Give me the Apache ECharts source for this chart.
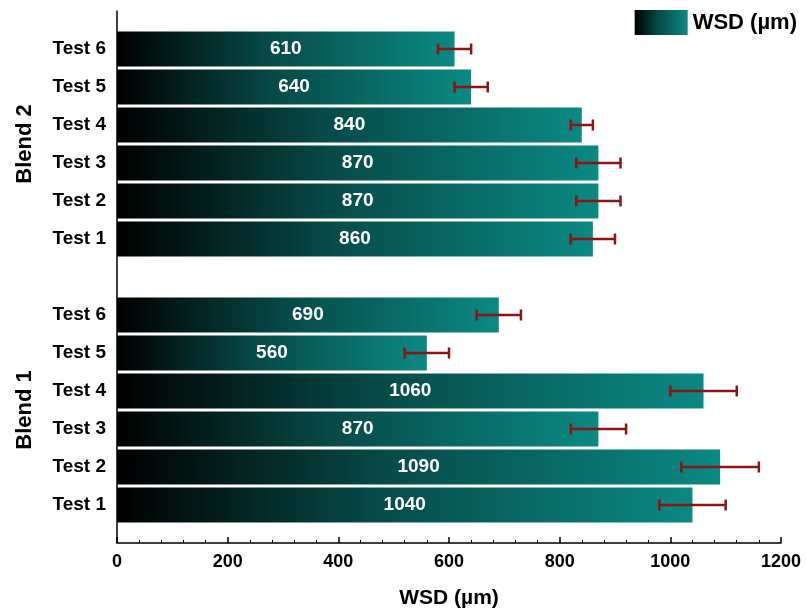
<!DOCTYPE html>
<html>
<head>
<meta charset="utf-8">
<style>
  html, body { margin: 0; padding: 0; background: #fff; }
  #chart { width: 806px; height: 614px; }
</style>
<script src="https://cdn.jsdelivr.net/npm/echarts@6/dist/echarts.min.js"></script>
</head>
<body>
<div id="chart"></div>
<script>
var tests = ['Test 1', 'Test 2', 'Test 3', 'Test 4', 'Test 5', 'Test 6'];
var blendNames = ['Blend 1', 'Blend 2'];
var blend1Values = [1040, 1090, 870, 1060, 560, 690];
var blend1Errors = [60, 70, 50, 60, 40, 40];
var blend2Values = [860, 870, 870, 840, 640, 610];
var blend2Errors = [40, 40, 40, 20, 30, 30];
var seriesName = 'WSD (µm)';

var FONT = '"Liberation Sans", Arial, sans-serif';

// category layout: pad, blend 1 tests, gap, blend 2 tests, pad
var categories = ['pad-bottom'];
var values = [null];
var errors = [null];
tests.forEach(function (t, i) {
  categories.push(blendNames[0] + '|' + t);
  values.push(blend1Values[i]);
  errors.push(blend1Errors[i]);
});
categories.push('gap');
values.push(null);
errors.push(null);
tests.forEach(function (t, i) {
  categories.push(blendNames[1] + '|' + t);
  values.push(blend2Values[i]);
  errors.push(blend2Errors[i]);
});
categories.push('pad-top');
values.push(null);
errors.push(null);

var errData = [];
values.forEach(function (v, i) {
  if (v != null) errData.push([v - errors[i], v + errors[i], i]);
});

var chart = echarts.init(document.getElementById('chart'));

var option = {
  backgroundColor: '#fff',
  animation: false,
  textStyle: { fontFamily: FONT },
  legend: {
    data: [seriesName],
    right: 4,
    top: 5,
    itemWidth: 53,
    itemHeight: 25,
    icon: 'rect',
    textStyle: { fontSize: 22, fontWeight: 'bold', color: '#000', fontFamily: FONT }
  },
  grid: {
    left: 117,
    right: 25,
    top: 11,
    bottom: 71,
    containLabel: false
  },
  xAxis: {
    type: 'value',
    min: 0,
    max: 1200,
    interval: 200,
    name: seriesName,
    nameLocation: 'middle',
    nameGap: 45,
    nameTextStyle: { fontSize: 21, fontWeight: 'bold', color: '#000', fontFamily: FONT },
    axisLine: { show: true, lineStyle: { color: '#000', width: 1.5 } },
    axisTick: { show: true, inside: true, length: 6, lineStyle: { color: '#000', width: 1.5 } },
    minorTick: { show: true, splitNumber: 5, length: 3, lineStyle: { color: '#000', width: 1 } },
    axisLabel: {
      fontSize: 18,
      fontWeight: 'bold',
      color: '#000',
      margin: 10,
      fontFamily: FONT,
      formatter: function (v) { return String(v); }
    },
    splitLine: { show: false }
  },
  yAxis: {
    type: 'category',
    data: categories,
    boundaryGap: false,
    axisLine: { show: true, lineStyle: { color: '#000', width: 1.5 } },
    axisTick: { show: false },
    axisLabel: {
      interval: 0,
      fontSize: 19,
      fontWeight: 'bold',
      color: '#000',
      margin: 11,
      fontFamily: FONT,
      formatter: function (v) {
        return v.indexOf('|') >= 0 ? v.split('|')[1] : '';
      }
    },
    splitLine: { show: false }
  },
  series: [
    {
      name: seriesName,
      type: 'bar',
      data: values,
      barWidth: 35,
      itemStyle: {
        color: new echarts.graphic.LinearGradient(0, 0, 1, 0, [
          { offset: 0, color: '#000000' },
          { offset: 0.45, color: '#064b48' },
          { offset: 1, color: '#0b8983' }
        ])
      },
      label: {
        show: true,
        position: 'inside',
        color: '#fff',
        fontSize: 19,
        fontWeight: 'bold',
        fontFamily: FONT
      }
    },
    {
      name: 'error',
      type: 'custom',
      data: errData,
      encode: { x: [0, 1], y: 2 },
      z: 5,
      renderItem: function (params, api) {
        var lo = api.coord([api.value(0), api.value(2)]);
        var hi = api.coord([api.value(1), api.value(2)]);
        var cap = 5.5;
        var style = { stroke: '#8b1414', lineWidth: 2.5 };
        return {
          type: 'group',
          children: [
            { type: 'line', shape: { x1: lo[0], y1: lo[1], x2: hi[0], y2: hi[1] }, style: style },
            { type: 'line', shape: { x1: lo[0], y1: lo[1] - cap, x2: lo[0], y2: lo[1] + cap }, style: style },
            { type: 'line', shape: { x1: hi[0], y1: hi[1] - cap, x2: hi[0], y2: hi[1] + cap }, style: style }
          ]
        };
      }
    }
  ]
};

chart.setOption(option);

// group names beside the test labels
function groupCenter(start) {
  var a = chart.convertToPixel({ yAxisIndex: 0 }, start);
  var b = chart.convertToPixel({ yAxisIndex: 0 }, start + tests.length - 1);
  return (a + b) / 2;
}

chart.setOption({
  graphic: blendNames.map(function (name, g) {
    return {
      type: 'text',
      x: 25,
      y: groupCenter(1 + g * (tests.length + 1)),
      rotation: Math.PI / 2,
      style: {
        text: name,
        fontSize: 22,
        fontWeight: 'bold',
        fontFamily: FONT,
        fill: '#000',
        align: 'center',
        verticalAlign: 'middle'
      }
    };
  })
});
</script>
</body>
</html>
